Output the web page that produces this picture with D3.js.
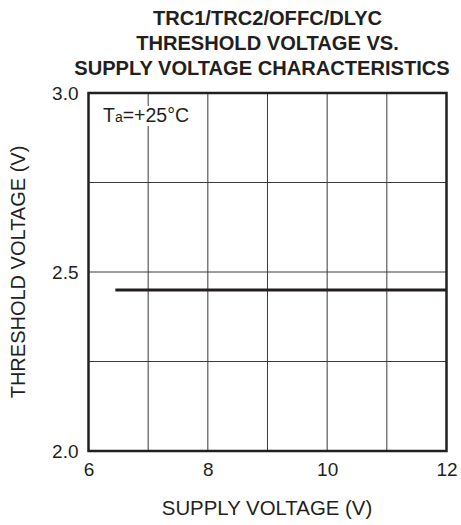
<!DOCTYPE html>
<html>
<head>
<meta charset="utf-8">
<script src="https://cdn.jsdelivr.net/npm/d3@7"></script>
<style>
  html, body { margin: 0; padding: 0; background: #fff; }
  svg { display: block; font-family: "Liberation Sans", Arial, Helvetica, sans-serif; }
</style>
</head>
<body>
<svg id="chart" width="461" height="525"></svg>
<script>
// Title lines
const titleLines = ["TRC1/TRC2/OFFC/DLYC", "THRESHOLD VOLTAGE VS.", "SUPPLY VOLTAGE CHARACTERISTICS"];

// Axis ticks
const xTicks = [6, 8, 10, 12];
const yTicks = [2.0, 2.5, 3.0];
const xGrid = [7, 8, 9, 10, 11];
const yGrid = [2.25, 2.5, 2.75];

// Threshold voltage vs. supply voltage
const supplyV = [6.45, 8, 10, 12];
const thresholdV = [2.45, 2.45, 2.45, 2.45];

const ink = "#231f20";
const svg = d3.select("#chart");

const x = d3.scaleLinear().domain([6, 12]).range([88.5, 446.5]);
const y = d3.scaleLinear().domain([2, 3]).range([451, 93]);

// Title (the long last line sits slightly left of the others)
const titleX = [267.5, 267.5, 262];
svg.append("g").selectAll("text").data(titleLines).join("text")
  .attr("x", (d, i) => titleX[i])
  .attr("y", (d, i) => 25 + i * 25)
  .attr("text-anchor", "middle")
  .attr("font-weight", "bold")
  .attr("font-size", 20.1)
  .attr("fill", ink)
  .text(d => d);

// Grid
const grid = svg.append("g").attr("stroke", "#3a3a3a").attr("stroke-width", 1);
grid.selectAll("line.v").data(xGrid).join("line")
  .attr("class", "v")
  .attr("x1", d => x(d)).attr("x2", d => x(d))
  .attr("y1", y(3)).attr("y2", y(2));
grid.selectAll("line.h").data(yGrid).join("line")
  .attr("class", "h")
  .attr("x1", x(6)).attr("x2", x(12))
  .attr("y1", d => y(d)).attr("y2", d => y(d));

// Annotation background keeps the gridline from crossing the text
const ann = svg.append("g");
ann.append("rect")
  .attr("x", x(6) + 12).attr("y", 106)
  .attr("width", 94).attr("height", 20)
  .attr("fill", "#fff");
const annText = ann.append("text")
  .attr("x", x(6) + 14.5)
  .attr("y", 122)
  .attr("font-size", 19.5)
  .attr("fill", ink);
annText.append("tspan").text("T");
annText.append("tspan").attr("font-size", 14).text("a");
annText.append("tspan").text("=+25°C");

// Data line
const line = d3.line().x((d, i) => x(supplyV[i])).y(d => y(d));
svg.append("path")
  .datum(thresholdV)
  .attr("d", line)
  .attr("fill", "none")
  .attr("stroke", ink)
  .attr("stroke-width", 3);

// Frame
svg.append("rect")
  .attr("x", x(6)).attr("y", y(3))
  .attr("width", x(12) - x(6)).attr("height", y(2) - y(3))
  .attr("fill", "none")
  .attr("stroke", ink)
  .attr("stroke-width", 2.5);

// X axis
const xAxis = svg.append("g")
  .attr("transform", `translate(0,${y(2)})`)
  .call(d3.axisBottom(x).tickValues(xTicks).tickSize(0).tickPadding(12).tickFormat(d3.format("d")));
xAxis.select(".domain").remove();
xAxis.selectAll("text").attr("font-size", 19).attr("fill", ink).attr("font-family", null);

// Y axis
const yAxis = svg.append("g")
  .attr("transform", `translate(${x(6)},0)`)
  .call(d3.axisLeft(y).tickValues(yTicks).tickSize(0).tickPadding(10).tickFormat(d3.format(".1f")));
yAxis.select(".domain").remove();
yAxis.selectAll("text").attr("font-size", 19).attr("fill", ink).attr("font-family", null);

// Axis titles
svg.append("text")
  .attr("x", 267).attr("y", 515)
  .attr("text-anchor", "middle")
  .attr("font-size", 20.4)
  .attr("fill", ink)
  .text("SUPPLY VOLTAGE (V)");

svg.append("text")
  .attr("transform", `translate(25,${(y(2) + y(3)) / 2}) rotate(-90)`)
  .attr("text-anchor", "middle")
  .attr("font-size", 20)
  .attr("fill", ink)
  .text("THRESHOLD VOLTAGE (V)");
</script>
</body>
</html>
